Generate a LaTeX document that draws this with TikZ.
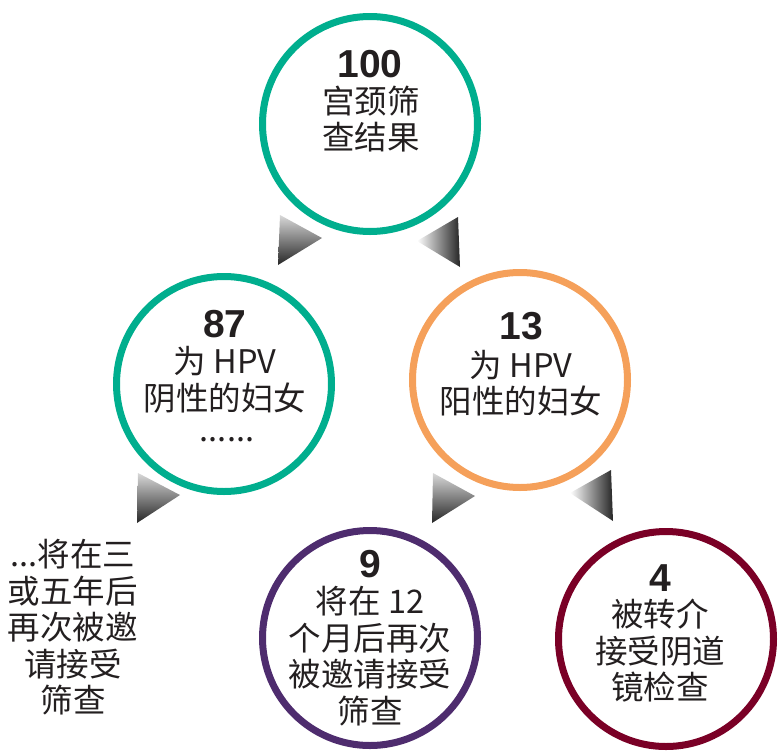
\documentclass[tikz,border=0pt]{standalone}
\usepackage{fontspec}
\setmainfont{Noto Sans CJK SC}
\newfontfamily\numf{Liberation Sans}
\definecolor{cgreen}{HTML}{00AE8E}
\definecolor{corange}{HTML}{F5A05A}
\definecolor{cpurple}{HTML}{4E2C6E}
\definecolor{cwine}{HTML}{7A0026}
\definecolor{ink}{HTML}{231F20}
\tikzset{
  ring/.style={circle, draw=#1, line width=7pt, minimum size=215pt, inner sep=0pt},
  num/.style={font=\numf\bfseries\fontsize{39}{39}\selectfont, text=ink, inner sep=0pt},
  body/.style={font=\fontsize{32.5}{36.5}\selectfont, text=ink, align=center, inner sep=0pt},
  trileft/.style={top color=black!15, bottom color=black!85},
  triright/.style={left color=white, right color=black!85}
}
\begin{document}
\begin{tikzpicture}[x=1pt,y=-1pt]
\useasboundingbox (0,0) rectangle (779,753);
% circles
\node[ring=cgreen]  (top)   at (370,124) {};
\node[ring=cgreen]  (neg)   at (224,384) {};
\node[ring=corange] (pos)   at (520,380) {};
\node[ring=cpurple] (again) at (370,638) {};
\node[ring=cwine]   (refer) at (666,639) {};
% texts
\node[num]  (n100) at (370,64) {100};
\node[body] (t100) at (371,119) {宫颈筛\\查结果};
\node[num]  (n87)  at (225,324) {87};
\node[body] (t87)  at (225,380) {为 HPV\\阴性的妇女};
\node[body] (d87)  at (227,440) {......};
\node[num]  (n13)  at (521,326) {13};
\node[body] (t13)  at (521,383) {为 HPV\\阳性的妇女};
\node[num]  (n9)   at (370,564) {9};
\node[body] (t9)   at (370,656) {将在 12\\个月后再次\\被邀请接受\\筛查};
\node[num]  (n4)   at (660,578) {4};
\node[body] (t4)   at (660,651) {被转介\\接受阴道\\镜检查};
\node[body] (side) at (73,627.5) {...将在三\\或五年后\\再次被邀\\请接受\\筛查};
% triangles
\shade[trileft]  (280,215) -- (278,265) -- (322,238) -- cycle;
\shade[triright] (458,217) -- (460,267) -- (417,241) -- cycle;
\shade[trileft]  (138,473) -- (137,523) -- (180,495) -- cycle;
\shade[trileft]  (433,473) -- (432,523) -- (475,496) -- cycle;
\shade[triright] (611,470) -- (613,521) -- (570,493) -- cycle;
\end{tikzpicture}
\end{document}
